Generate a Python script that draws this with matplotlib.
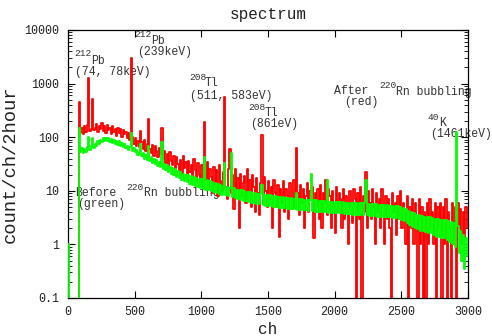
#spectrum before / after 220Rn bubbling, gnuplot-like look
import matplotlib
matplotlib.use('Agg')
import matplotlib.pyplot as plt
import numpy as np

plt.rcParams['font.family'] = ['Liberation Mono', 'DejaVu Sans Mono']

# channel of each 10-ch bin (left edge)
channels = np.arange(0, 3000, 10)

# after bubbling (red), one value per 10 channels, rows of 100 ch
red = [
    0, 0, 0, 0, 0, 0, 0, 0, 460, 120,
    150, 115, 160, 125, 170, 1250, 130, 145, 510, 135,
    150, 175, 125, 165, 140, 185, 130, 160, 120, 170,
    135, 150, 115, 165, 125, 145, 105, 150, 120, 140,
    100, 135, 115, 125, 95, 120, 90, 3000, 100, 75,
    95, 70, 85, 65, 130, 80, 60, 90, 55, 75,
    220, 60, 50, 72, 45, 68, 55, 42, 62, 48,
    150, 40, 55, 33, 48, 28, 52, 36, 30, 45,
    26, 42, 32, 24, 38, 21, 44, 27, 35, 19,
    36, 22, 30, 17, 40, 24, 15, 33, 20, 14,
    30, 12, 195, 16, 35, 11, 26, 18, 9, 28,
    13, 24, 8, 30, 15, 10, 22, 560, 12, 7,
    25, 60, 9, 20, 4.5, 26, 11, 17, 2, 21,
    8, 14, 19, 6, 25, 9, 16, 5, 20, 12,
    4, 17, 9, 3.5, 14, 110, 6, 18, 10, 5,
    15, 7, 12, 2, 16, 9, 5, 13, 1.4, 11,
    6, 15, 4, 11, 8, 3, 14, 7, 4.5, 16,
    5, 63, 9, 3.5, 13, 6, 11, 2, 8, 14,
    4, 10, 7, 12, 1.3, 9, 5, 11, 3, 13,
    2, 9, 6, 16, 3.5, 11, 8, 2, 10, 5,
    1.6, 12, 4, 9, 7, 2, 11, 3, 8, 6,
    1, 10, 5, 2.5, 11, 7, 0, 9, 3, 12,
    0, 8, 4, 22, 2, 10, 6, 3, 11, 5,
    1, 9, 4, 7, 2, 11, 5, 1, 8, 3,
    7, 2, 0, 9, 4, 6, 1.5, 8, 3, 10,
    2, 6, 4, 1, 8, 0, 5, 2, 7, 1,
    6, 3, 0, 7, 1, 5, 0, 4, 0, 6,
    1, 7, 2, 4, 1, 6, 0, 5, 2, 6,
    0, 5, 1, 7, 0, 4, 2, 0, 6, 1,
    5, 0, 6, 2, 4.5, 1, 4, 1.2, 5, 2,
]

# before bubbling (green)
green = [
    1, 0, 0, 0, 0, 0, 0, 0, 150, 52,
    62, 50, 60, 54, 66, 100, 58, 68, 97, 64,
    75, 70, 84, 76, 90, 82, 98, 86, 95, 84,
    96, 82, 92, 78, 90, 76, 86, 72, 84, 70,
    78, 66, 74, 62, 70, 58, 66, 120, 56, 62,
    52, 58, 47, 54, 75, 44, 50, 40, 46, 38,
    70, 36, 42, 33, 39, 31, 37, 29, 35, 28,
    80, 26, 32, 24, 30, 22, 28, 21, 27, 19.5,
    25, 18, 23.5, 17, 22, 16, 21, 15, 20, 14.5,
    19.5, 13.5, 18.5, 13, 18, 12.5, 17, 12, 16.5, 11.5,
    16.5, 11, 43, 10.5, 16, 10.5, 15, 9.8, 14.5, 9.5,
    14, 9, 13.5, 8.8, 13, 8.5, 12.5, 33, 8.2, 12,
    8, 11.5, 50, 7.6, 11.2, 7.4, 10.5, 7, 10.2, 6.8,
    10.2, 6.5, 9.8, 6.4, 9.6, 6.1, 9.4, 6, 9.2, 5.8,
    9, 5.7, 8.8, 5.6, 8.6, 13, 5.4, 8.5, 5.3, 8.3,
    5.2, 8.2, 5.1, 8, 5, 7.9, 4.9, 7.8, 4.8, 7.6,
    4.8, 7.5, 4.7, 7.4, 4.6, 7.3, 4.6, 7.2, 4.5, 7.1,
    4.5, 9, 4.4, 7, 4.4, 6.9, 4.3, 6.8, 4.3, 6.8,
    4.2, 6.7, 21, 4.2, 6.6, 4.1, 6.6, 4.1, 6.5, 4,
    6.5, 4, 6.4, 4, 16, 3.9, 6.3, 3.9, 6.3, 3.9,
    6.2, 3.8, 6.2, 3.8, 6.1, 3.8, 6.1, 3.7, 6, 3.7,
    6, 3.7, 6, 3.6, 5.9, 3.6, 5.9, 3.6, 5.8, 3.5,
    5.8, 3.5, 5.8, 16, 3.5, 5.7, 3.4, 5.7, 3.4, 5.6,
    3.4, 5.6, 3.3, 5.5, 3.3, 5.5, 3.3, 5.4, 3.2, 5.4,
    3.2, 5.3, 3.2, 5.3, 3.1, 5.2, 3.1, 5.1, 3, 5,
    2.9, 4.8, 2.7, 4.5, 2.5, 4.2, 2.3, 4, 2.1, 3.8,
    2, 3.6, 1.9, 3.5, 1.8, 3.4, 1.8, 3.3, 1.7, 3.3,
    1.6, 3.2, 1.6, 3.1, 1.5, 3, 1.4, 3, 1.4, 2.9,
    1.3, 2.8, 1.3, 2.8, 1.2, 2.7, 1.1, 2.6, 1, 2.5,
    0.9, 125, 2.2, 0.7, 1.8, 0.5, 1.5, 0.35, 1.3, 0.6,
]

xticks = [0, 500, 1000, 1500, 2000, 2500, 3000]
yticks = [0.1, 1, 10, 100, 1000, 10000]
yticklabels = ['0.1', '1', '10', '100', '1000', '10000']

# annotation pieces: text, x px (left), baseline y px, superscript?
notes = [
    ('212', 74, 56, True), ('Pb', 91.5, 63.5, False), ('(74, 78keV)', 75, 74.5, False),
    ('212', 134, 37, True), ('Pb', 151.5, 44, False), ('(239keV)', 137, 54.5, False),
    ('208', 189, 80.5, True), ('Tl', 205, 86.5, False), ('(511, 583eV)', 190, 99.5, False),
    ('208', 248, 110, True), ('Tl', 264.5, 116, False), ('(861eV)', 250, 127.5, False),
    ('After', 334, 94.5, False), ('220', 379, 88, True), ('Rn bubbling', 396, 94.5, False),
    ('(red)', 344, 105, False),
    ('40', 428, 120, True), ('K', 439.5, 125.5, False), ('(1461keV)', 430, 136.5, False),
    ('Before', 75, 196, False), ('220', 126.5, 189.5, True), ('Rn bubbling', 143.5, 196, False),
    ('(green)', 77, 206.5, False),
]

W, H = 492, 336
fig = plt.figure(figsize=(W / 100, H / 100), dpi=100)
ax = fig.add_axes([68 / W, 1 - 298 / H, 400 / W, 268 / H])

ax.plot(channels, red, drawstyle='steps-post', color='#ff0000', lw=1.3, zorder=2)
ax.plot(channels, green, drawstyle='steps-post', color='#00ff00', lw=1.3, zorder=3)

ax.set_yscale('log', nonpositive='clip')
ax.set_xlim(0, 3000)
ax.set_ylim(0.1, 10000)
ax.set_xticks(xticks)
ax.set_xticklabels([str(t) for t in xticks])
ax.set_yticks(yticks)
ax.set_yticklabels(yticklabels)
ax.tick_params(which='both', direction='in', top=True, right=True, labelsize=8.4,
               color='black', labelcolor='#222222')
ax.tick_params(which='major', length=5, width=0.8)
ax.tick_params(which='minor', length=3, width=0.6)
ax.tick_params(axis='x', pad=6)
ax.tick_params(axis='y', pad=6)
for s in ax.spines.values():
    s.set_linewidth(0.9)

ax.set_title('spectrum', fontsize=11.5, pad=8, color='#222222')
ax.set_xlabel('ch', fontsize=11.5, labelpad=3, color='#222222')
ax.set_ylabel('count/ch/2hour', fontsize=13.5, labelpad=4, color='#222222')

# labels sit under the spectrum lines, like in the original
for txt, x, y, sup in notes:
    ax.text(x / W, 1 - y / H, txt, transform=fig.transFigure, fontsize=6.8 if sup else 8.3,
            color='#333333', va='baseline', ha='left', zorder=1, clip_on=False)

fig.savefig('out.png', dpi=100)
